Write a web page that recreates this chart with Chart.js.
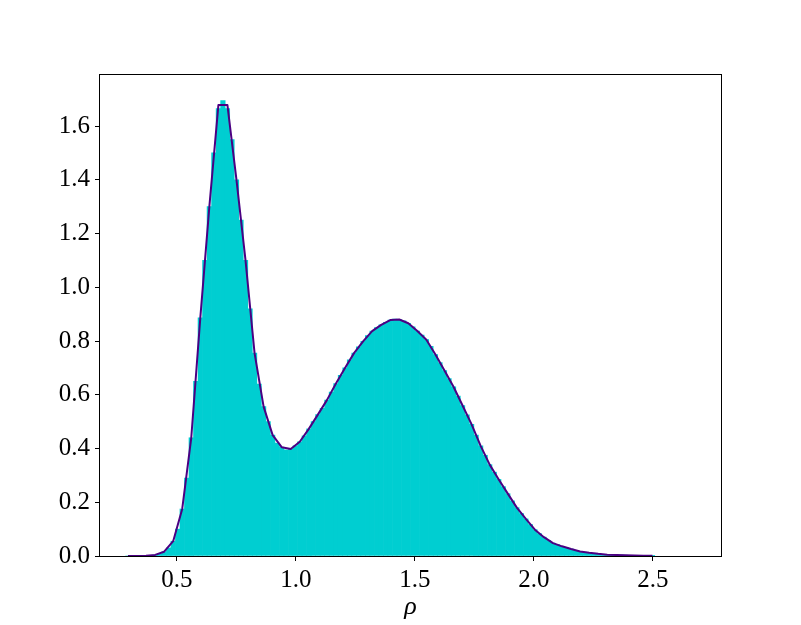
<!DOCTYPE html>
<html>
<head>
<meta charset="utf-8">
<script src="https://cdn.jsdelivr.net/npm/chart.js@4/dist/chart.umd.min.js"></script>
<style>
  html, body { margin: 0; padding: 0; background: #ffffff; }
  #wrap { width: 801px; height: 625px; }
</style>
</head>
<body>
<div id="wrap"><canvas id="c" width="801" height="625"></canvas></div>
<script>
// ---- data ----
const lineX = [0.294, 0.332, 0.370, 0.408, 0.446, 0.484, 0.522, 0.560, 0.598, 0.636,
  0.674, 0.712, 0.750, 0.788, 0.826, 0.864, 0.902, 0.940, 0.978, 1.016,
  1.054, 1.092, 1.130, 1.168, 1.206, 1.244, 1.282, 1.320, 1.358, 1.396,
  1.434, 1.472, 1.510, 1.548, 1.586, 1.624, 1.662, 1.700, 1.738, 1.776,
  1.814, 1.852, 1.890, 1.928, 1.966, 2.004, 2.042, 2.080, 2.118, 2.156,
  2.194, 2.232, 2.270, 2.308, 2.346, 2.384, 2.422, 2.460, 2.498];
const lineY = [0, 0, 0.001, 0.004, 0.016, 0.055, 0.175, 0.44, 0.886, 1.30,
  1.678, 1.678, 1.40, 1.10, 0.755, 0.556, 0.45, 0.405, 0.398, 0.425,
  0.473, 0.526, 0.58, 0.642, 0.70, 0.755, 0.799, 0.837, 0.86, 0.878,
  0.880, 0.866, 0.837, 0.805, 0.75, 0.69, 0.63, 0.56, 0.49, 0.41,
  0.34, 0.285, 0.232, 0.18, 0.138, 0.098, 0.070, 0.048, 0.036, 0.026,
  0.017, 0.012, 0.008, 0.005, 0.004, 0.003, 0.002, 0.001, 0.0005];

const histX = [0.294, 0.313, 0.332, 0.351, 0.370, 0.389, 0.408, 0.427, 0.446, 0.465,
  0.484, 0.503, 0.522, 0.541, 0.560, 0.579, 0.598, 0.617, 0.636, 0.655,
  0.674, 0.693, 0.712, 0.731, 0.750, 0.769, 0.788, 0.807, 0.826, 0.845,
  0.864, 0.883, 0.902, 0.921, 0.940, 0.959, 0.978, 0.997, 1.016, 1.035,
  1.054, 1.073, 1.092, 1.111, 1.130, 1.149, 1.168, 1.187, 1.206, 1.225,
  1.244, 1.263, 1.282, 1.301, 1.320, 1.339, 1.358, 1.377, 1.396, 1.415,
  1.434, 1.453, 1.472, 1.491, 1.510, 1.529, 1.548, 1.567, 1.586, 1.605,
  1.624, 1.643, 1.662, 1.681, 1.700, 1.719, 1.738, 1.757, 1.776, 1.795,
  1.814, 1.833, 1.852, 1.871, 1.890, 1.909, 1.928, 1.947, 1.966, 1.985,
  2.004, 2.023, 2.042, 2.061, 2.080, 2.099, 2.118, 2.137, 2.156, 2.175,
  2.194, 2.213, 2.232, 2.251, 2.270, 2.289, 2.308, 2.327, 2.346, 2.365,
  2.384, 2.403, 2.422, 2.441, 2.460, 2.479, 2.498];
const histY = [0, 0, 0, 0.0005, 0.001, 0.002, 0.004, 0.008, 0.016, 0.03,
  0.055, 0.10, 0.175, 0.29, 0.44, 0.65, 0.886, 1.10, 1.30, 1.50,
  1.665, 1.695, 1.665, 1.55, 1.40, 1.25, 1.10, 0.92, 0.755, 0.64,
  0.556, 0.50, 0.45, 0.42, 0.405, 0.395, 0.398, 0.41, 0.425, 0.447,
  0.473, 0.50, 0.526, 0.55, 0.58, 0.61, 0.642, 0.672, 0.70, 0.73,
  0.755, 0.778, 0.799, 0.82, 0.837, 0.85, 0.86, 0.87, 0.878, 0.882,
  0.880, 0.875, 0.866, 0.853, 0.837, 0.822, 0.805, 0.78, 0.75, 0.72,
  0.69, 0.66, 0.63, 0.595, 0.56, 0.525, 0.49, 0.45, 0.41, 0.375,
  0.34, 0.312, 0.285, 0.258, 0.232, 0.205, 0.18, 0.158, 0.138, 0.117,
  0.098, 0.083, 0.070, 0.058, 0.048, 0.042, 0.036, 0.031, 0.026, 0.021,
  0.017, 0.014, 0.012, 0.010, 0.008, 0.006, 0.005, 0.0045, 0.004, 0.0035,
  0.003, 0.0025, 0.002, 0.0015, 0.001, 0.001, 0.0005];

const xTickValues = [0.5, 1.0, 1.5, 2.0, 2.5];
const yTickValues = [0.0, 0.2, 0.4, 0.6, 0.8, 1.0, 1.2, 1.4, 1.6];
const xTitle = 'ρ';

// ---- chart ----
const FONT = '"Liberation Serif", "DejaVu Serif", serif';

const framePlugin = {
  id: 'frame',
  afterDraw(chart) {
    const a = chart.chartArea, ctx = chart.ctx;
    ctx.save();
    ctx.strokeStyle = '#000';
    ctx.lineWidth = 1;
    ctx.strokeRect(a.left - 0.5, a.top - 0.5, a.right - a.left + 1, a.bottom - a.top + 1);
    ctx.restore();
  }
};

new Chart(document.getElementById('c'), {
  type: 'bar',
  data: {
    datasets: [
      {
        type: 'line',
        data: lineX.map((x, i) => ({ x: x, y: lineY[i] })),
        borderColor: '#4B0082',
        borderWidth: 2,
        pointRadius: 0,
        tension: 0,
        fill: false,
        borderJoinStyle: 'round',
        order: 0
      },
      {
        type: 'bar',
        data: histX.map((x, i) => ({ x: x, y: histY[i] })),
        backgroundColor: '#00CED1',
        borderWidth: 0,
        barPercentage: 1.0,
        categoryPercentage: 1.0,
        grouped: false,
        order: 1
      }
    ]
  },
  options: {
    responsive: false,
    devicePixelRatio: 1,
    animation: false,
    layout: { padding: { left: 0, right: 80, top: 75, bottom: 0 } },
    plugins: { legend: { display: false }, tooltip: { enabled: false } },
    scales: {
      x: {
        type: 'linear',
        offset: false,
        min: 0.1765,
        max: 2.786,
        afterBuildTicks(scale) { scale.ticks = xTickValues.map(v => ({ value: v })); },
        afterFit(scale) { scale.height = 69; },
        grid: { display: true, offset: false, drawOnChartArea: false, drawTicks: true, tickLength: 5, tickColor: '#000', tickWidth: 1 },
        border: { display: false },
        ticks: {
          color: '#000',
          padding: 4,
          maxRotation: 0,
          autoSkip: false,
          font: { family: FONT, size: 25 },
          callback: (v) => Number(v).toFixed(1)
        },
        title: {
          display: true,
          text: xTitle,
          color: '#000',
          font: { family: FONT, size: 26, style: 'italic' },
          padding: { top: 0, bottom: 2 }
        }
      },
      y: {
        type: 'linear',
        min: 0,
        max: 1.79,
        afterBuildTicks(scale) { scale.ticks = yTickValues.map(v => ({ value: v })); },
        afterFit(scale) { scale.width = 100; },
        grid: { display: true, offset: false, drawOnChartArea: false, drawTicks: true, tickLength: 5, tickColor: '#000', tickWidth: 1 },
        border: { display: false },
        ticks: {
          color: '#000',
          padding: 5,
          autoSkip: false,
          font: { family: FONT, size: 25 },
          callback: (v) => Number(v).toFixed(1)
        }
      }
    }
  },
  plugins: [framePlugin]
});
</script>
</body>
</html>
